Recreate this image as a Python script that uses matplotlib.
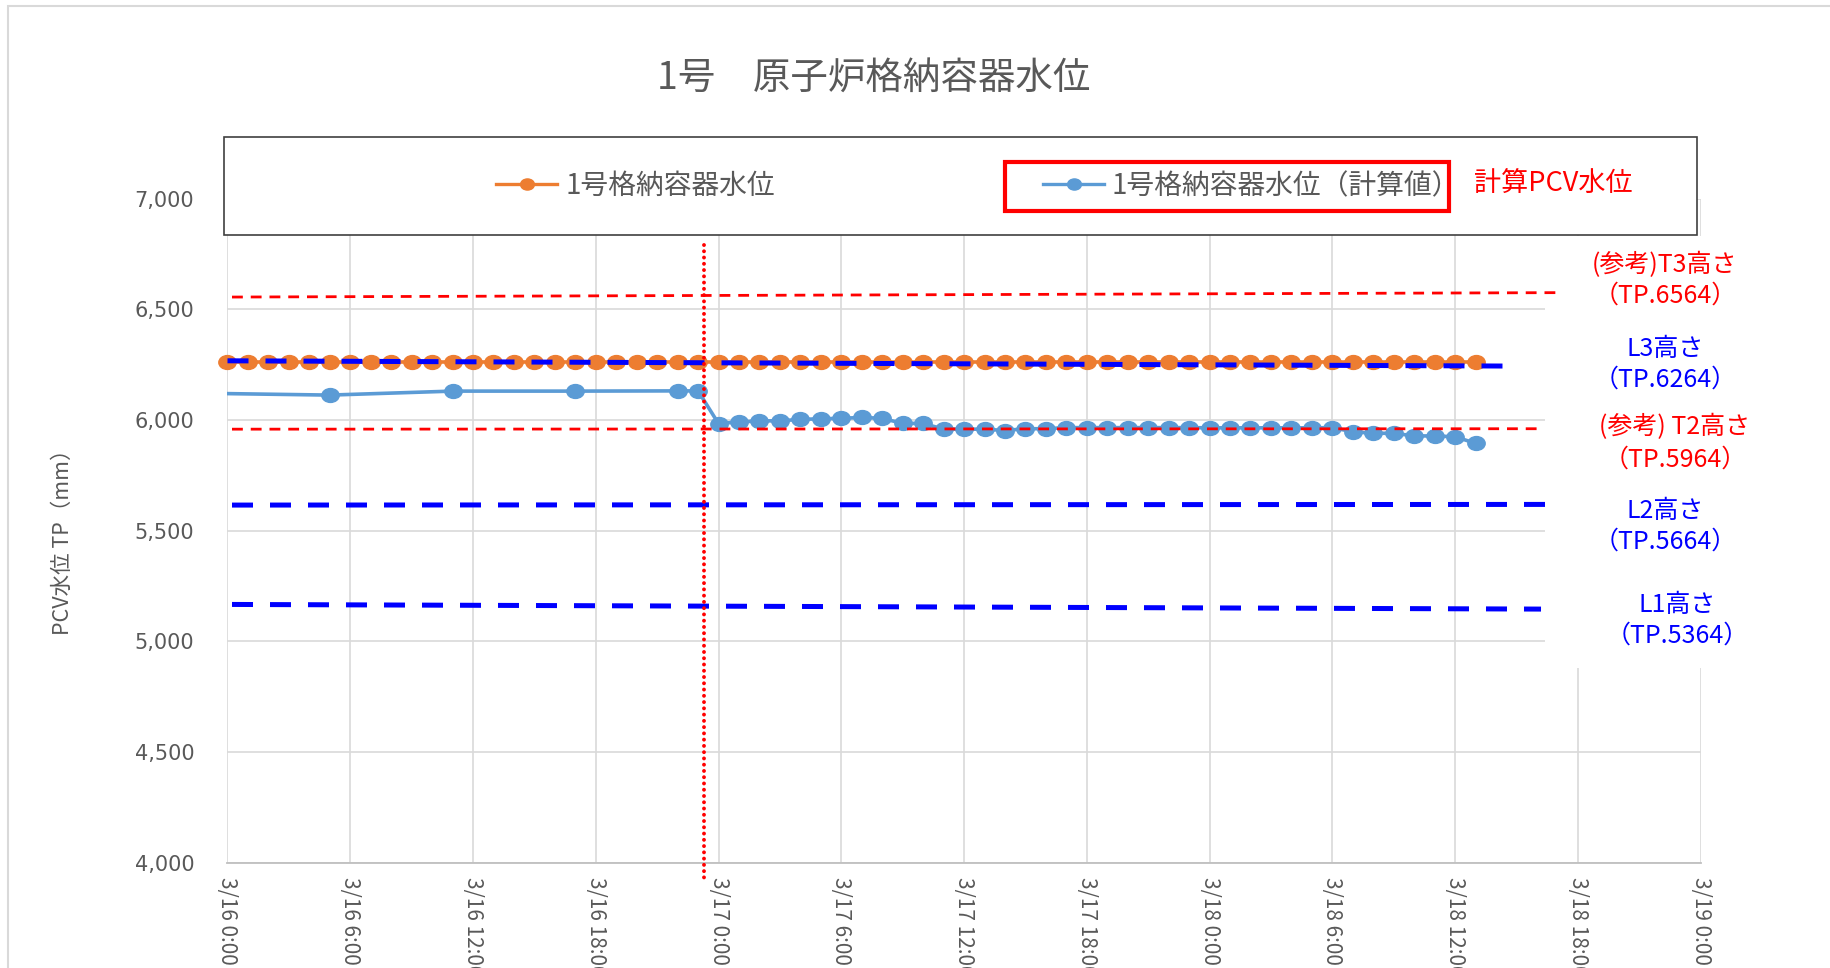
import matplotlib
matplotlib.use('Agg')
import matplotlib.pyplot as plt
from matplotlib.path import Path
from matplotlib.patches import Rectangle
from matplotlib.lines import Line2D
import matplotlib.transforms as mtransforms

plt.rcParams['font.family'] = ['Noto Sans CJK JP', 'DejaVu Sans']

# --- data (hours from 3/16 0:00) ---
orange_hours = list(range(0, 62))
orange_vals = [6262, 6262, 6262, 6262, 6262, 6262, 6262, 6262, 6262, 6262,
               6262, 6262, 6262, 6262, 6262, 6262, 6262, 6262, 6262, 6262,
               6262, 6262, 6262, 6262, 6262, 6262, 6262, 6262, 6262, 6262,
               6262, 6262, 6262, 6262, 6262, 6262, 6262, 6262, 6262, 6262,
               6262, 6262, 6262, 6262, 6262, 6262, 6262, 6262, 6262, 6262,
               6262, 6262, 6262, 6262, 6262, 6262, 6262, 6262, 6262, 6262,
               6262, 6262]

blue_hours = [-1, 5, 11, 17, 22, 23,
              24, 25, 26, 27, 28, 29, 30, 31, 32, 33, 34, 35, 36, 37,
              38, 39, 40, 41, 42, 43, 44, 45, 46, 47, 48, 49, 50, 51,
              52, 53, 54, 55, 56, 57, 58, 59, 60, 61]
blue_vals = [6121, 6113, 6131, 6131, 6132, 6132,
             5984, 5992, 5996, 5997, 6003, 6006, 6008, 6012, 6008, 5985, 5985, 5959, 5959, 5959,
             5953, 5961, 5961, 5966, 5966, 5966, 5966, 5966, 5966, 5966, 5965, 5965, 5965, 5965,
             5965, 5965, 5966, 5947, 5941, 5940, 5929, 5928, 5925, 5895]

series_names = ['1号格納容器水位', '1号格納容器水位（計算値）']

# reference levels drawn over the chart (T3, L3, T2, L2, L1)
ref_kind = ['T', 'L', 'T', 'L', 'L']
ref_h0 = [0.22, 0.0, 0.22, 0.22, 0.22]
ref_h1 = [65.2, 63.1, 64.15, 64.7, 64.2]
ref_v0 = [6556, 6268, 5959, 5616, 5167]
ref_v1 = [6576, 6244, 5961, 5619, 5146]
ref_line1 = ['(参考)T3高さ', 'L3高さ', '(参考) T2高さ', 'L2高さ', 'L1高さ']
ref_line2 = ['（TP.6564）', '（TP.6264）', '（TP.5964）', '（TP.5664）', '（TP.5364）']

quake_hour = 23.3

x_ticks = [0, 6, 12, 18, 24, 30, 36, 42, 48, 54, 60, 66, 72]
x_labels = ['3/16 0:00', '3/16 6:00', '3/16 12:00', '3/16 18:00',
            '3/17 0:00', '3/17 6:00', '3/17 12:00', '3/17 18:00',
            '3/18 0:00', '3/18 6:00', '3/18 12:00', '3/18 18:00', '3/19 0:00']
y_ticks = [4000, 4500, 5000, 5500, 6000, 6500, 7000]
y_labels = ['4,000', '4,500', '5,000', '5,500', '6,000', '6,500', '7,000']

# --- layout helpers (pixel -> figure fraction) ---
W, H = 1831, 968
def fx(p):
    return p / W
def fy(p):
    return 1 - p / H

ORANGE = '#ED7D31'
BLUE = '#5B9BD5'
GRAY = '#595959'
RED = '#FF0000'
PBLUE = '#0000FF'

fig = plt.figure(figsize=(W / 100, H / 100), dpi=100)
ax = fig.add_axes([fx(227.5), fy(862.7), (1700.6 - 227.5) / W, (862.7 - 198.8) / H])

circ = Path.unit_circle()
ell = Path(circ.vertices * [1.0, 0.8], circ.codes)

# series
ax.plot(orange_hours, orange_vals, color=ORANGE, lw=2.6, zorder=3)
ax.plot(orange_hours, orange_vals, ls='none', marker=ell, ms=12.5,
        mfc=ORANGE, mec=ORANGE, clip_on=False, zorder=4)
ax.plot(blue_hours, blue_vals, color=BLUE, lw=2.6, zorder=3)
bh = [h for h in blue_hours if h >= 0]
bv = [v for h, v in zip(blue_hours, blue_vals) if h >= 0]
ax.plot(bh, bv, ls='none', marker=ell, ms=12.5, mfc=BLUE, mec=BLUE,
        clip_on=False, zorder=4)

# reference lines
for k, h0, h1, v0, v1 in zip(ref_kind, ref_h0, ref_h1, ref_v0, ref_v1):
    if k == 'L':
        ax.plot([h0, h1], [v0, v1], color=PBLUE, lw=3.6, ls=(0, (4.2, 3.4)),
                solid_capstyle='butt', clip_on=False, zorder=5)
    else:
        ax.plot([h0, h1], [v0, v1], color=RED, lw=2.0, ls=(0, (3.9, 2.85)),
                clip_on=False, zorder=5)

trans = mtransforms.blended_transform_factory(ax.transData, ax.transAxes)
ax.plot([quake_hour, quake_hour], [0.930, -0.031], transform=trans, color=RED,
        lw=2.8, ls=(0, (0.01, 1.6)), dash_capstyle='round', clip_on=False, zorder=6)

ax.set_xlim(0, 72)
ax.set_ylim(4000, 7000)
ax.set_xticks(x_ticks)
ax.set_xticklabels(x_labels, rotation=270, fontsize=15)
ax.set_yticks(y_ticks)
ax.set_yticklabels(y_labels, fontfamily='DejaVu Sans', fontsize=15)
ax.tick_params(axis='both', length=0, labelcolor=GRAY)
ax.tick_params(axis='y', pad=24)
ax.tick_params(axis='x', pad=10)
ax.grid(True, color='#D9D9D9', lw=1.2)
ax.set_axisbelow(True)
for s in ['left', 'top', 'right']:
    ax.spines[s].set_visible(False)
ax.spines['bottom'].set_color('#BFBFBF')
ax.spines['bottom'].set_linewidth(1.3)

# white area behind the right-hand labels
ax.add_patch(Rectangle((fx(1545), fy(668)), (1800 - 1545) / W, (668 - 236) / H,
                       transform=fig.transFigure, fc='white', ec='none',
                       clip_on=False, zorder=1.5))

# outer chart border
fig.add_artist(Rectangle((fx(8), fy(990)), (1840 - 8) / W, (990 - 6) / H,
                         transform=fig.transFigure, fill=False, ec='#D9D9D9',
                         lw=1.5, zorder=0.5))

# legend frame
fig.add_artist(Rectangle((fx(224), fy(235)), (1696.7 - 224) / W, (235 - 136.7) / H,
                         transform=fig.transFigure, fc='white', ec='#404040',
                         lw=1.2, zorder=1))

fs = 20
fs_px = fs * 100 / 72
h_or = Line2D([], [], color=ORANGE, lw=2.4, marker=ell, ms=10, mfc=ORANGE, mec=ORANGE)
h_bl = Line2D([], [], color=BLUE, lw=2.4, marker=ell, ms=10, mfc=BLUE, mec=BLUE)
for h, name, x0 in [(h_or, series_names[0], 496), (h_bl, series_names[1], 1043)]:
    fig.legend(handles=[h], labels=[name], loc='center left',
               bbox_to_anchor=(fx(x0), fy(186)), frameon=False, borderpad=0,
               borderaxespad=0, handlelength=61 / fs_px, handletextpad=8 / fs_px,
               fontsize=fs, labelcolor=GRAY)

fig.add_artist(Rectangle((fx(1005), fy(210.7)), (1448.5 - 1005) / W, (210.7 - 162.3) / H,
                         transform=fig.transFigure, fill=False, ec=RED, lw=3.0, zorder=6))
fig.text(fx(1474), fy(184), '計算PCV水位', color=RED, fontsize=19.5, ha='left', va='center')

# right-hand level labels
label_pos = [(1665, 265, 296), (1665, 349, 380), (1675, 427, 460),
             (1665, 511, 542), (1677, 605, 636)]
for k, t1, t2, (xc, y1, y2) in zip(ref_kind, ref_line1, ref_line2, label_pos):
    col = RED if k == 'T' else PBLUE
    fig.text(fx(xc), fy(y1), t1, color=col, fontsize=18, ha='center', va='center')
    fig.text(fx(xc), fy(y2), t2, color=col, fontsize=18, ha='center', va='center')

fig.text(fx(874), fy(78), '1号　原子炉格納容器水位', color=GRAY, fontsize=27,
         ha='center', va='center')
fig.text(fx(63), fy(537), 'PCV水位 TP（mm）', color=GRAY, fontsize=15.5,
         rotation=90, ha='center', va='center')

fig.savefig('out.png', dpi=100)
